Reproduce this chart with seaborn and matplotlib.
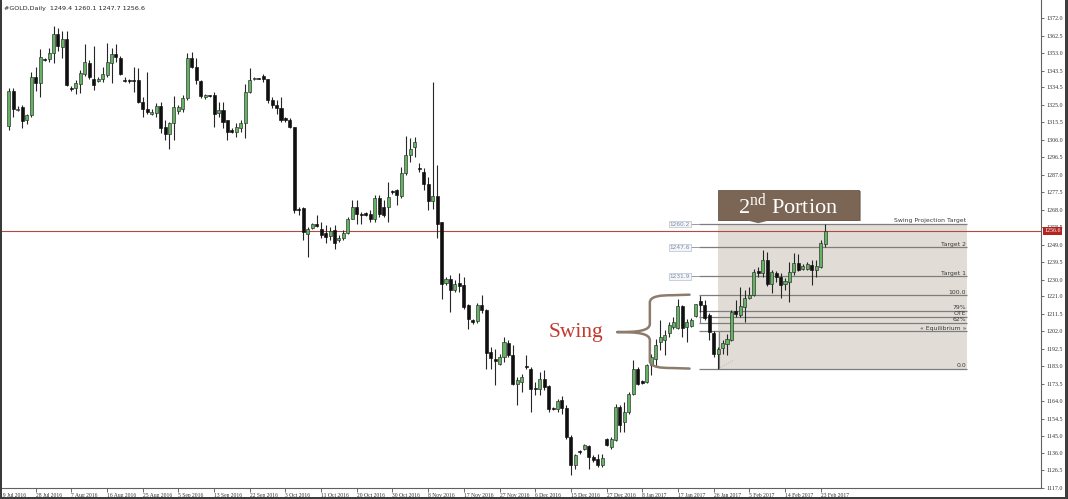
import numpy as np
import pandas as pd
import matplotlib
matplotlib.use("Agg")
import matplotlib.pyplot as plt
import seaborn as sns
from matplotlib.patches import Rectangle, Polygon, PathPatch
from matplotlib.path import Path
from matplotlib.transforms import blended_transform_factory

# ---------------- data ----------------
opens = [1313.4, 1332.5, 1322.0, 1323.5, 1316.6, 1319.3, 1340.1, 1336.5, 1349.8, 1349.6,
         1352.8, 1363.3, 1356.1, 1360.4, 1334.0, 1333.8, 1336.2, 1341.9, 1347.7, 1339.2,
         1338.0, 1339.2, 1341.0, 1347.7, 1352.5, 1350.4, 1338.2, 1337.9, 1337.8, 1338.3,
         1326.6, 1322.8, 1319.9, 1320.6, 1324.2, 1313.0, 1309.0, 1314.8, 1321.7, 1322.4,
         1328.4, 1350.1, 1345.6, 1338.0, 1328.9, 1329.8, 1330.2, 1320.6, 1322.1, 1316.6,
         1311.0, 1310.3, 1312.1, 1315.2, 1332.0, 1338.9, 1339.2, 1340.5, 1338.7, 1327.8,
         1324.8, 1323.0, 1317.2, 1316.6, 1313.0, 1268.5, 1268.7, 1255.0, 1258.2, 1259.8,
         1257.8, 1255.1, 1253.6, 1256.9, 1251.5, 1252.4, 1255.1, 1263.2, 1269.6, 1265.6,
         1265.8, 1265.9, 1263.2, 1274.6, 1269.6, 1269.6, 1277.9, 1278.6, 1275.4, 1287.7,
         1297.6, 1301.8, 1290.8, 1288.5, 1281.7, 1272.6, 1275.5, 1261.4, 1228.5, 1230.3,
         1224.3, 1228.0, 1227.4, 1216.2, 1207.8, 1207.5, 1216.5, 1213.4, 1190.8, 1186.8,
         1184.5, 1188.1, 1195.9, 1189.4, 1173.6, 1174.5, 1182.9, 1181.8, 1171.2, 1170.5,
         1176.0, 1172.3, 1160.2, 1159.7, 1164.6, 1160.4, 1144.7, 1129.3, 1136.7, 1138.3,
         1139.8, 1133.8, 1132.9, 1129.3, 1143.8, 1139.2, 1142.9, 1161.0, 1152.8, 1158.3,
         1167.8, 1181.8, 1174.6, 1174.5, 1183.6, 1187.2, 1196.3, 1197.2, 1201.2, 1204.4,
         1204.0, 1215.6, 1204.4, 1204.8, 1210.2, 1218.5, 1216.2, 1210.8, 1201.2, 1189.6,
         1193.2, 1195.4, 1197.5, 1213.1, 1210.8, 1215.3, 1220.3, 1221.6, 1234.6, 1233.4,
         1240.6, 1227.6, 1233.7, 1231.6, 1227.6, 1228.8, 1234.3, 1239.2, 1236.1, 1236.1,
         1237.9, 1235.5, 1237.0, 1249.4]
highs = [1333.8, 1333.8, 1324.2, 1324.8, 1320.2, 1342.9, 1345.6, 1355.0, 1350.3, 1355.5,
         1367.6, 1366.4, 1365.1, 1365.1, 1334.9, 1338.3, 1343.8, 1357.9, 1349.2, 1356.8,
         1339.8, 1345.6, 1358.2, 1355.5, 1357.9, 1351.4, 1339.8, 1338.7, 1345.6, 1344.7,
         1329.3, 1342.9, 1322.4, 1325.7, 1326.6, 1316.6, 1315.7, 1329.6, 1324.8, 1330.2,
         1353.2, 1353.7, 1350.1, 1338.3, 1330.7, 1330.3, 1332.0, 1326.6, 1326.6, 1316.8,
         1312.1, 1314.8, 1316.6, 1336.2, 1344.7, 1340.1, 1339.6, 1341.6, 1339.2, 1329.3,
         1327.5, 1329.3, 1318.1, 1317.5, 1313.0, 1269.6, 1269.6, 1258.7, 1260.9, 1265.0,
         1261.4, 1259.6, 1258.7, 1259.6, 1254.2, 1256.9, 1264.1, 1273.2, 1273.2, 1266.9,
         1266.5, 1267.8, 1275.9, 1275.9, 1273.2, 1283.1, 1278.6, 1279.5, 1291.3, 1307.9,
         1306.7, 1307.2, 1293.1, 1290.4, 1285.8, 1337.4, 1292.2, 1261.4, 1231.6, 1232.5,
         1229.7, 1233.4, 1231.6, 1217.1, 1208.9, 1217.6, 1221.6, 1214.4, 1193.5, 1192.6,
         1189.9, 1199.0, 1197.2, 1194.4, 1177.3, 1179.1, 1189.0, 1182.7, 1174.5, 1180.0,
         1180.9, 1173.1, 1161.0, 1165.1, 1166.9, 1161.9, 1145.9, 1135.6, 1137.4, 1141.1,
         1140.5, 1134.7, 1135.6, 1135.6, 1144.1, 1144.7, 1162.8, 1161.9, 1163.7, 1169.1,
         1186.3, 1182.7, 1175.4, 1184.5, 1189.9, 1198.1, 1208.0, 1202.6, 1207.1, 1209.8,
         1219.8, 1216.2, 1208.9, 1209.0, 1217.1, 1221.1, 1218.9, 1211.7, 1202.2, 1193.5,
         1197.2, 1200.8, 1213.5, 1218.9, 1225.8, 1224.3, 1226.1, 1236.1, 1237.0, 1246.0,
         1245.1, 1235.2, 1234.8, 1233.4, 1230.7, 1239.7, 1244.6, 1244.2, 1238.8, 1239.7,
         1240.6, 1240.6, 1251.5, 1260.1]
lows = [1311.2, 1318.4, 1321.7, 1312.6, 1314.5, 1318.4, 1332.5, 1328.9, 1348.8, 1348.3,
        1347.4, 1354.3, 1350.1, 1335.1, 1332.5, 1330.7, 1331.1, 1340.5, 1338.7, 1332.9,
        1337.2, 1337.4, 1339.8, 1336.5, 1348.3, 1341.0, 1337.2, 1336.9, 1332.0, 1326.0,
        1318.4, 1319.9, 1319.3, 1318.4, 1309.4, 1305.8, 1301.2, 1306.1, 1320.2, 1321.2,
        1327.5, 1344.7, 1336.2, 1328.4, 1328.2, 1329.0, 1313.0, 1318.4, 1312.1, 1305.8,
        1309.7, 1307.6, 1310.3, 1306.7, 1331.1, 1338.3, 1338.7, 1337.4, 1325.7, 1323.0,
        1320.2, 1315.7, 1315.7, 1312.1, 1266.0, 1265.0, 1251.5, 1242.4, 1257.8, 1258.7,
        1252.4, 1249.7, 1251.5, 1246.9, 1250.6, 1251.5, 1254.7, 1262.7, 1260.5, 1260.5,
        1264.8, 1261.4, 1261.4, 1264.1, 1264.1, 1261.4, 1276.8, 1270.5, 1274.6, 1286.8,
        1294.0, 1296.7, 1288.5, 1278.6, 1267.7, 1268.6, 1252.4, 1219.8, 1227.4, 1212.5,
        1223.4, 1223.4, 1214.4, 1203.5, 1206.2, 1206.8, 1212.2, 1181.8, 1181.8, 1172.7,
        1183.6, 1185.4, 1188.1, 1172.7, 1161.9, 1169.1, 1181.8, 1158.2, 1167.3, 1167.3,
        1170.0, 1158.2, 1159.1, 1158.2, 1157.3, 1143.8, 1123.9, 1127.5, 1135.6, 1137.4,
        1127.5, 1131.1, 1128.4, 1128.4, 1139.8, 1138.3, 1142.3, 1147.4, 1147.4, 1157.4,
        1167.3, 1172.7, 1173.6, 1174.0, 1178.2, 1182.7, 1191.8, 1189.0, 1199.0, 1203.5,
        1203.5, 1199.0, 1196.3, 1204.4, 1209.8, 1212.6, 1208.0, 1197.2, 1188.1, 1181.8,
        1189.9, 1189.0, 1196.8, 1209.8, 1209.8, 1207.1, 1219.8, 1221.1, 1231.6, 1231.6,
        1226.5, 1222.9, 1228.8, 1220.3, 1224.3, 1218.0, 1232.5, 1234.8, 1235.2, 1235.2,
        1227.0, 1231.6, 1236.6, 1247.7]
closes = [1332.5, 1322.4, 1322.9, 1316.3, 1319.3, 1339.8, 1336.5, 1350.6, 1349.4, 1352.8,
          1363.3, 1356.8, 1360.4, 1335.6, 1333.6, 1336.5, 1342.3, 1348.1, 1340.1, 1335.6,
          1339.2, 1341.4, 1348.3, 1352.3, 1350.6, 1341.6, 1337.9, 1337.7, 1337.6, 1326.6,
          1322.4, 1321.2, 1321.2, 1324.2, 1312.6, 1309.0, 1314.8, 1323.5, 1323.5, 1328.4,
          1350.1, 1345.6, 1338.3, 1329.6, 1330.2, 1329.5, 1320.2, 1322.1, 1315.7, 1310.3,
          1310.3, 1313.0, 1315.2, 1332.0, 1338.3, 1339.3, 1339.0, 1338.7, 1327.5, 1324.8,
          1323.0, 1316.6, 1316.9, 1313.0, 1267.8, 1268.0, 1256.0, 1257.3, 1260.0, 1259.4,
          1254.2, 1253.3, 1256.5, 1250.0, 1252.9, 1255.4, 1263.2, 1269.6, 1265.6, 1265.2,
          1265.4, 1263.2, 1274.1, 1265.9, 1265.0, 1275.0, 1277.5, 1275.9, 1287.7, 1297.6,
          1301.2, 1304.9, 1290.0, 1281.7, 1272.6, 1275.5, 1260.5, 1227.9, 1230.3, 1224.3,
          1227.9, 1226.5, 1215.3, 1208.9, 1207.3, 1216.5, 1213.4, 1190.5, 1187.6, 1185.9,
          1188.1, 1196.3, 1189.4, 1173.6, 1175.4, 1177.3, 1182.5, 1170.9, 1170.6, 1176.0,
          1171.8, 1160.0, 1159.8, 1164.0, 1160.4, 1144.7, 1129.3, 1135.0, 1136.3, 1140.2,
          1133.8, 1132.0, 1129.6, 1133.3, 1140.2, 1143.4, 1161.0, 1151.0, 1158.3, 1168.2,
          1181.8, 1173.6, 1174.2, 1183.6, 1188.1, 1194.4, 1198.9, 1199.9, 1205.3, 1206.9,
          1215.6, 1204.0, 1207.0, 1208.4, 1216.7, 1216.2, 1209.5, 1201.7, 1189.6, 1192.6,
          1195.7, 1198.1, 1212.6, 1211.3, 1215.6, 1220.3, 1221.6, 1234.3, 1233.8, 1240.6,
          1227.6, 1234.3, 1231.6, 1227.0, 1229.4, 1234.3, 1239.2, 1235.5, 1237.4, 1238.4,
          1235.2, 1237.4, 1249.7, 1256.6]

date_labels = ["19 Jul 2016", "28 Jul 2016", "7 Aug 2016", "16 Aug 2016", "25 Aug 2016",
               "5 Sep 2016", "13 Sep 2016", "22 Sep 2016", "3 Oct 2016", "11 Oct 2016",
               "20 Oct 2016", "30 Oct 2016", "8 Nov 2016", "17 Nov 2016", "27 Nov 2016",
               "6 Dec 2016", "15 Dec 2016", "27 Dec 2016", "8 Jan 2017", "17 Jan 2017",
               "26 Jan 2017", "5 Feb 2017", "14 Feb 2017", "23 Feb 2017"]

price_ticks = [1372.0, 1362.5, 1353.0, 1343.5, 1334.5, 1325.0, 1315.5, 1306.0, 1296.5,
               1287.0, 1277.5, 1268.0, 1258.5, 1249.0, 1239.5, 1230.0, 1221.0, 1211.5,
               1202.0, 1192.5, 1183.0, 1173.5, 1164.0, 1154.5, 1145.0, 1136.0, 1126.5,
               1117.0]

level_names = ["Swing Projection Target", "Target 2", "Target 1", "100.0", "79%", "OTE",
               "62%", "\u00ab Equilibrium \u00bb", "0.0"]
level_values = [1260.2, 1247.6, 1231.9, 1221.6, 1213.1, 1209.8, 1206.8, 1202.1, 1181.8]
price_tags = ["1260.2", "1247.6", "1231.9"]

symbol_title = "#GOLD,Daily  1249.4 1260.1 1247.7 1256.6"
last_price = 1256.6

# ---------------- style ----------------
sns.set_theme(style="white")
plt.rcParams["font.family"] = ["Liberation Serif", "DejaVu Serif"]
plt.rcParams["mathtext.fontset"] = "custom"
plt.rcParams["mathtext.rm"] = "Liberation Serif"

df = pd.DataFrame({"o": opens, "h": highs, "l": lows, "c": closes})
df["i"] = np.arange(len(df))
df["up"] = df["c"] >= df["o"]
df["bottom"] = df[["o", "c"]].min(axis=1)
df["height"] = (df["c"] - df["o"]).abs().clip(lower=0.6)

W, H = 1068, 499
fig = plt.figure(figsize=(W / 100, H / 100), dpi=100)
fig.patch.set_facecolor("white")
ax = fig.add_axes([0.0, 11 / H, 1041 / W, 488 / H])
ax.set_facecolor("white")

x_left, x_right = -0.89, 231.4
y_bot, y_top = 1117.0, 1381.8
ax.set_xlim(x_left, x_right)
ax.set_ylim(y_bot, y_top)

# ---------------- swing projection box ----------------
box_i0, box_i1 = 158.9, 214.9
line_i0 = 154.7
proj, t2, t1, lvl100, l79, lote, l62, leq, l0 = level_values
ax.add_patch(Rectangle((box_i0, l0), box_i1 - box_i0, proj - l0,
                       facecolor="#e1dcd6", edgecolor="none", zorder=1))
for name, val in zip(level_names, level_values):
    ax.plot([line_i0, box_i1], [val, val], color="#7d7d7d", lw=0.9, zorder=2,
            solid_capstyle="butt")
    ax.text(box_i1 - 0.3, val + 0.35, name, ha="right", va="bottom",
            fontsize=4.4, color="#3a3a3a", zorder=6, family="DejaVu Sans")
for tag, val in zip(price_tags, level_values[:3]):
    ax.text(150.4, val, tag, ha="center", va="center", fontsize=4.2,
            color="#7f8fa6", zorder=6, family="DejaVu Sans",
            bbox=dict(boxstyle="square,pad=0.15", facecolor="#f3f5f8",
                      edgecolor="#b7c0cc", lw=0.5))
    ax.plot([152.9, line_i0], [val, val], color="#9a9a9a", lw=0.7, zorder=2)

ax.plot([line_i0 + 0.2, line_i0 + 0.2], [lvl100, l62], color="#7d7d7d", lw=0.8, zorder=2)
ax.plot([box_i0 + 0.2, box_i0 + 0.2], [leq, l0], color="#7d7d7d", lw=0.8, zorder=2)
ax.plot([box_i0 + 0.2, box_i0 + 3.5], [l0, l0 + 4.5], color="#b8b0a8", lw=0.6,
        ls=":", zorder=2)

# current price line
ax.axhline(last_price, color="#b4493e", lw=0.8, zorder=2.5)

# ---------------- candles ----------------
ax.vlines(df["i"], df["l"], df["h"], color="#262626", lw=0.8, zorder=3)
upd = df[df["up"]]
dnd = df[~df["up"]]
ax.bar(upd["i"], upd["height"], bottom=upd["bottom"], width=0.68,
       color="#62b462", edgecolor="#2a2a2a", linewidth=0.45, zorder=4)
ax.bar(dnd["i"], dnd["height"], bottom=dnd["bottom"], width=0.68,
       color="#101010", edgecolor="#101010", linewidth=0.45, zorder=4)

# ---------------- annotations ----------------
tag_i0, tag_i1 = 158.9, 190.6
tag_y0, tag_y1 = 1262.6, 1278.8
ax.add_patch(Rectangle((tag_i0 + 0.4, tag_y0 - 0.5), tag_i1 - tag_i0, tag_y1 - tag_y0,
                       facecolor="#4e3f34", edgecolor="none", alpha=0.5, zorder=6))
ax.add_patch(Rectangle((tag_i0, tag_y0), tag_i1 - tag_i0, tag_y1 - tag_y0,
                       facecolor="#7b6656", edgecolor="#6a5646", lw=0.6, zorder=7))
ptr_c = 168.0
ax.add_patch(Polygon([(ptr_c - 3.2, tag_y0 + 0.02), (ptr_c + 3.2, tag_y0 + 0.02),
                      (ptr_c, tag_y0 - 1.9)], closed=True,
                     facecolor="#7b6656", edgecolor="none", zorder=7))
ax.text((tag_i0 + tag_i1) / 2, (tag_y0 + tag_y1) / 2 - 0.3,
        "2$^{\\mathrm{nd}}$ Portion", ha="center", va="center", fontsize=16,
        color="white", family="Liberation Serif", zorder=8)

ax.text(127.2, 1201.6, "Swing", ha="center", va="center", fontsize=15.5,
        color="#c23a2f", family="Liberation Serif", zorder=6)

tip_i, mid_i, end_i = 136.4, 143.7, 152.6
yc, yt, yb = 1201.6, lvl100, 1182.1
def brace_half(y_end, sgn):
    verts = [(tip_i, yc),
             (tip_i + 4.5, yc), (mid_i, yc + sgn * 0.6), (mid_i, yc + sgn * 4.5),
             (mid_i, y_end - sgn * 4.0),
             (mid_i, y_end - sgn * 0.4), (mid_i + 2.5, y_end), (mid_i + 5.0, y_end),
             (end_i, y_end + sgn * 0.3)]
    codes = [Path.MOVETO, Path.CURVE4, Path.CURVE4, Path.CURVE4, Path.LINETO,
             Path.CURVE4, Path.CURVE4, Path.CURVE4, Path.LINETO]
    return PathPatch(Path(verts, codes), facecolor="none", edgecolor="#8d7c6c",
                     lw=1.8, zorder=5, capstyle="round")
ax.add_patch(brace_half(yt, 1))
ax.add_patch(brace_half(yb, -1))

# ---------------- axes ----------------
ax.yaxis.tick_right()
ax.set_yticks(price_ticks)
ax.set_yticklabels([f"{v:.1f}" for v in price_ticks], fontsize=4.3, color="#333333")
ax.tick_params(axis="y", direction="out", length=2.5, width=0.6, pad=1.2,
               color="#555555", right=True, left=False)

tick_pos = np.arange(-2, len(df), 8)[:len(date_labels)]
ax.set_xticks(tick_pos)
ax.set_xticklabels(date_labels, fontsize=4.1, color="#333333", ha="left")
ax.tick_params(axis="x", direction="out", length=3, width=0.6, pad=0.8,
               color="#555555", bottom=True)
ax.grid(False)
for side in ["top", "left"]:
    ax.spines[side].set_visible(False)
for side in ["right", "bottom"]:
    ax.spines[side].set_color("#606060")
    ax.spines[side].set_linewidth(0.8)

trans = blended_transform_factory(ax.transAxes, ax.transData)
ax.text(1.003, last_price, f"{last_price:.1f}", transform=trans, ha="left",
        va="center", fontsize=4.3, color="white", zorder=10, clip_on=False,
        bbox=dict(boxstyle="square,pad=0.25", facecolor="#b3231f", edgecolor="none"))

fig.text(0.004, 0.988, symbol_title, ha="left", va="top", fontsize=4.6, color="#222222",
         family="DejaVu Sans")

# screenshot borders
fig.add_artist(Rectangle((0, 0), 1.6 / W, 1, transform=fig.transFigure,
                         facecolor="#3a3a3a", edgecolor="none"))
fig.add_artist(Rectangle((1064.5 / W, 0), 3.5 / W, 1, transform=fig.transFigure,
                         facecolor="#3d3d3d", edgecolor="none"))
fig.add_artist(Rectangle((0, 0), 1, 2.0 / H, transform=fig.transFigure,
                         facecolor="#3d3d3d", edgecolor="none"))

fig.savefig("out.png", dpi=100, facecolor="white")
